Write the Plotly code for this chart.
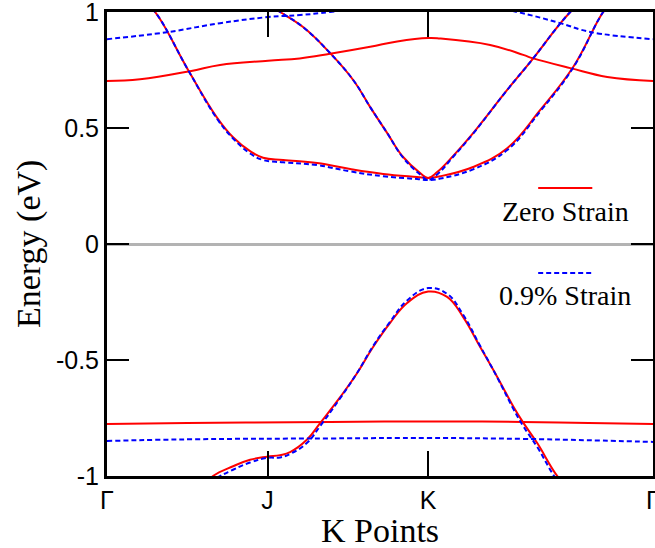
import plotly.graph_objects as go

# ---- k-path ticks ----
tick_k = [0.0, 1.0, 2.0, 3.4]
tick_labels = ["Γ", "J", "K", "Γ"]
y_ticks = [-1, -0.5, 0, 0.5, 1]
y_tick_labels = ["-1", "-0.5", "0", "0.5", "1"]

# ---- Zero strain (red) bands ----
k_a0 = [0, 0.206, 0.517, 0.704, 1.003, 1.2, 1.389, 1.639, 1.807, 2.0, 2.075, 2.386, 2.592, 2.654, 2.885, 3.115, 3.4]
e_a0 = [0.703, 0.71, 0.745, 0.772, 0.79, 0.80, 0.82, 0.85, 0.873, 0.888, 0.886, 0.858, 0.815, 0.80, 0.758, 0.72, 0.703]

k_b = [0.206, 0.299, 0.505, 0.685, 0.785, 0.891, 0.972, 1.097, 1.308, 1.514, 1.720, 1.931, 2.0, 2.075, 2.280, 2.492, 2.698, 2.903, 3.090, 3.165]
e_b0 = [1.06, 1.0, 0.75, 0.545, 0.46, 0.40, 0.372, 0.362, 0.349, 0.323, 0.302, 0.289, 0.285, 0.292, 0.332, 0.413, 0.578, 0.763, 1.0, 1.06]

k_c = [1.016, 1.078, 1.221, 1.389, 1.533, 1.639, 1.745, 1.844, 1.950, 2.0, 2.056, 2.156, 2.280, 2.492, 2.654, 2.804, 2.885, 2.947]
e_c0 = [1.028, 1.0, 0.935, 0.823, 0.707, 0.59, 0.478, 0.375, 0.306, 0.285, 0.31, 0.38, 0.478, 0.664, 0.80, 0.935, 1.0, 1.04]

k_d = [0.579, 0.660, 0.785, 0.891, 0.997, 1.078, 1.140, 1.246, 1.327, 1.452, 1.558, 1.657, 1.763, 1.869, 2.0, 2.118, 2.218, 2.324, 2.430, 2.530, 2.592, 2.679, 2.804, 2.885]
e_d0 = [-1.06, -1.0, -0.958, -0.93, -0.917, -0.91, -0.897, -0.843, -0.772, -0.66, -0.556, -0.444, -0.34, -0.254, -0.205, -0.228, -0.315, -0.444, -0.573, -0.70, -0.77, -0.858, -1.0, -1.06]

k_e = [0, 0.5, 1.389, 2.0, 2.586, 3.0, 3.4]
e_e0 = [-0.776, -0.772, -0.767, -0.765, -0.767, -0.772, -0.776]

# ---- 0.9% strain (blue) bands ----
k_a9 = [0, 0.374, 0.704, 1.0, 1.202, 1.389, 1.701, 2.0, 2.324, 2.555, 2.822, 3.009, 3.4]
e_a9 = [0.883, 0.913, 0.952, 0.978, 0.987, 1.0, 1.03, 1.04, 1.03, 1.0, 0.952, 0.914, 0.883]

e_b9 = [1.06, 1.0, 0.75, 0.54, 0.455, 0.39, 0.362, 0.352, 0.34, 0.313, 0.292, 0.28, 0.276, 0.282, 0.322, 0.405, 0.572, 0.76, 1.0, 1.06]

e_c9 = [1.028, 1.0, 0.935, 0.823, 0.707, 0.59, 0.478, 0.372, 0.30, 0.276, 0.30, 0.376, 0.476, 0.664, 0.80, 0.935, 1.0, 1.04]

e_d9 = [-1.08, -1.02, -0.973, -0.942, -0.922, -0.92, -0.905, -0.857, -0.785, -0.665, -0.555, -0.44, -0.335, -0.243, -0.19, -0.215, -0.305, -0.44, -0.575, -0.71, -0.785, -0.875, -1.02, -1.08]

e_e9 = [-0.849, -0.842, -0.838, -0.836, -0.84, -0.846, -0.853]

RED = "#ff0000"
BLUE = "#0000ff"

fig = go.Figure()

red_bands = [(k_a0, e_a0), (k_b, e_b0), (k_c, e_c0), (k_d, e_d0), (k_e, e_e0)]
blue_bands = [(k_a9, e_a9), (k_b, e_b9), (k_c, e_c9), (k_d, e_d9), (k_e, e_e9)]

for kk, ee in red_bands:
    fig.add_trace(go.Scatter(x=kk, y=ee, mode="lines", name="Zero Strain",
                             line=dict(color=RED, width=2, shape="spline", smoothing=1.2),
                             showlegend=False, hoverinfo="skip"))
for kk, ee in blue_bands:
    fig.add_trace(go.Scatter(x=kk, y=ee, mode="lines", name="0.9% Strain",
                             line=dict(color=BLUE, width=2, dash="5px,3px", shape="spline", smoothing=1.2),
                             showlegend=False, hoverinfo="skip"))

tick_font = dict(family="Liberation Sans, Arial, sans-serif", size=25, color="black")
serif = "Liberation Serif, Times New Roman, serif"

fig.update_layout(
    width=655, height=548,
    margin=dict(l=107, r=2, t=12, b=72),
    paper_bgcolor="white", plot_bgcolor="white",
    showlegend=False,
    xaxis=dict(range=[0, 3.4], tickvals=tick_k, ticktext=tick_labels,
               ticks="inside", ticklen=25, tickwidth=2, tickcolor="black",
               showline=True, linecolor="black", linewidth=3, mirror="ticks",
               showgrid=False, zeroline=False, tickfont=tick_font,
               ticklabeloverflow="allow", automargin=False),
    yaxis=dict(range=[-1, 1], tickvals=y_ticks, ticktext=y_tick_labels,
               ticks="inside", ticklen=22, tickwidth=2, tickcolor="black",
               showline=True, linecolor="black", linewidth=3, mirror="ticks",
               showgrid=False, zeroline=True, zerolinecolor="#b3b3b3", zerolinewidth=3,
               tickfont=tick_font, ticklabeloverflow="allow", automargin=False),
)

# axis titles
fig.add_annotation(text="Energy (eV)", xref="paper", yref="paper", x=0, y=0.5,
                   xanchor="center", yanchor="middle", xshift=-78, textangle=-90,
                   showarrow=False, font=dict(family=serif, size=34, color="black"))
fig.add_annotation(text="K Points", xref="paper", yref="paper", x=0.5, y=0,
                   xanchor="center", yanchor="middle", yshift=-54,
                   showarrow=False, font=dict(family=serif, size=34, color="black"))

# legend (line sample above label)
fig.add_shape(type="line", xref="x", yref="y", x0=2.685, x1=3.022, y0=0.241, y1=0.241,
              line=dict(color=RED, width=2))
fig.add_annotation(text="Zero Strain", xref="x", yref="y", x=2.853, y=0.142,
                   xanchor="center", yanchor="middle", showarrow=False,
                   font=dict(family=serif, size=28, color="black"))
fig.add_shape(type="line", xref="x", yref="y", x0=2.685, x1=3.022, y0=-0.125, y1=-0.125,
              line=dict(color=BLUE, width=2, dash="5px,3px"))
fig.add_annotation(text="0.9% Strain", xref="x", yref="y", x=2.853, y=-0.22,
                   xanchor="center", yanchor="middle", showarrow=False,
                   font=dict(family=serif, size=28, color="black"))

fig.write_html("out.html")
